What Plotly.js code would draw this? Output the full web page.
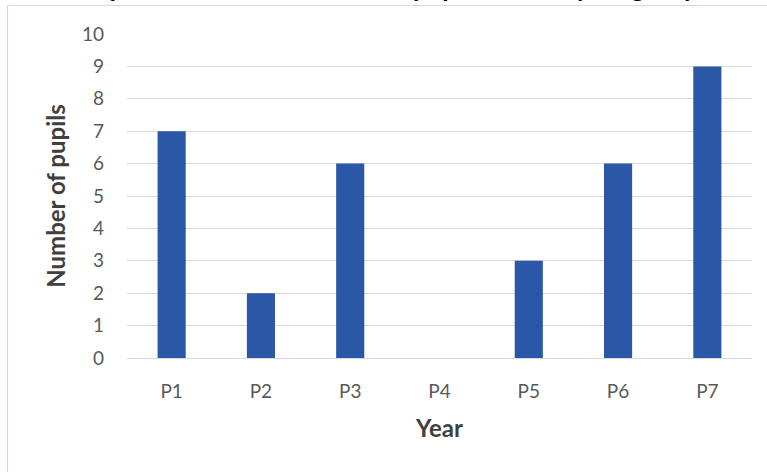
<!DOCTYPE html>
<html>
<head>
<meta charset="utf-8">
<script src="https://cdn.plot.ly/plotly-3.0.1.min.js"></script>
<style>
html,body{margin:0;padding:0;background:#fff;}
#chart{width:767px;height:472px;}
</style>
</head>
<body>
<div id="chart"></div>
<script>
var categories = ["P1", "P2", "P3", "P4", "P5", "P6", "P7"];
var pupils = [7, 2, 6, 0, 3, 6, 9];
var yTicks = [0, 1, 2, 3, 4, 5, 6, 7, 8, 9, 10];
var chartTitle = "Graph to show the number of pupils in each year group";
var xTitle = "Year";
var yTitle = "Number of pupils";

var L = 127, R = 752, T = 34, B = 358, W = 767, H = 472;
function px(x){ return (x - L) / (R - L); }
function py(y){ return (B - y) / (B - T); }

var trace = {
  type: "bar",
  x: categories,
  y: pupils,
  marker: {color: "#2A58A6"},
  hoverinfo: "x+y"
};

var layout = {
  width: W, height: H,
  margin: {l: L, r: W - R, t: T, b: H - B, pad: 0},
  paper_bgcolor: "#ffffff",
  plot_bgcolor: "#ffffff",
  showlegend: false,
  bargap: 0.685,
  font: {family: "Lato, 'Open Sans', sans-serif", color: "#595959", size: 19},
  xaxis: {
    type: "category",
    showgrid: false,
    showline: false,
    zeroline: false,
    ticks: "",
    ticklabelstandoff: 20,
    tickfont: {size: 19, color: "#595959"},
    title: {text: xTitle, font: {size: 24, color: "#404040", weight: "bold"}, standoff: 19},
    automargin: false
  },
  yaxis: {
    range: [0, 10],
    tickvals: yTicks,
    showgrid: true,
    gridcolor: "#d9d9d9",
    gridwidth: 1,
    zeroline: true,
    zerolinecolor: "#d9d9d9",
    zerolinewidth: 1,
    showline: false,
    ticks: "",
    ticklabelstandoff: 22,
    tickfont: {size: 19, color: "#595959"},
    title: {text: yTitle, font: {size: 24, color: "#404040", weight: "bold"}, standoff: 9},
    automargin: false,
    fixedrange: true
  },
  annotations: [{
    text: "<b>" + chartTitle + "</b>",
    xref: "paper", yref: "paper",
    x: px(383), y: py(5.5),
    xanchor: "center", yanchor: "bottom",
    showarrow: false,
    font: {family: "Lato, sans-serif", size: 26, color: "#000000"}
  }],
  shapes: [{
    type: "rect", xref: "paper", yref: "paper",
    x0: px(7.5), x1: px(790), y0: py(490), y1: py(5.5),
    line: {color: "#d9d9d9", width: 1.2},
    fillcolor: "rgba(0,0,0,0)",
    layer: "below"
  }]
};

Plotly.newPlot("chart", [trace], layout, {displayModeBar: false, staticPlot: true});
</script>
</body>
</html>
